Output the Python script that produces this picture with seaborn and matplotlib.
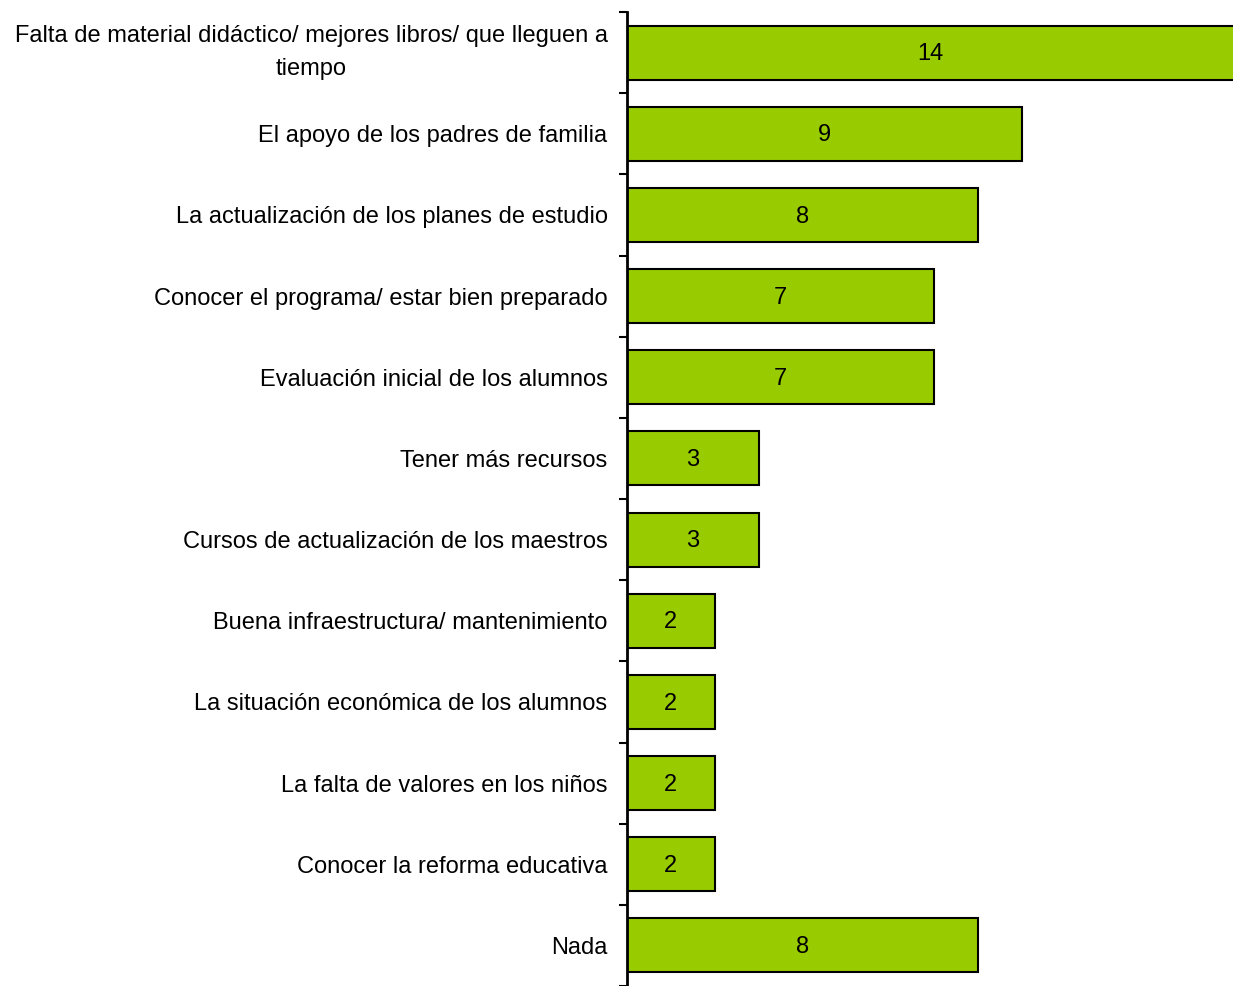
import matplotlib
matplotlib.use("Agg")
import matplotlib.pyplot as plt
import seaborn as sns
import pandas as pd
import numpy as np

categories = [
    "Falta de material didáctico/ mejores libros/ que lleguen a\ntiempo",
    "El apoyo de los padres de familia",
    "La actualización de los planes de estudio",
    "Conocer el programa/ estar bien preparado",
    "Evaluación inicial de los alumnos",
    "Tener más recursos",
    "Cursos de actualización de los maestros",
    "Buena infraestructura/ mantenimiento",
    "La situación económica de los alumnos",
    "La falta de valores en los niños",
    "Conocer la reforma educativa",
    "Nada",
]
values = [14, 9, 8, 7, 7, 3, 3, 2, 2, 2, 2, 8]

sns.set_theme(style="white")
plt.rcParams['font.family'] = ['Liberation Sans', 'DejaVu Sans']

df = pd.DataFrame({"cat": categories, "val": values})

W, H = 1233, 986
fig = plt.figure(figsize=(W / 100, H / 100), dpi=100)
ax = fig.add_axes([627 / W, 0, 1 - 627 / W, 974 / H])

sns.barplot(data=df, y="cat", x="val", orient="h", color="#99CC00",
            edgecolor="black", linewidth=1.5, width=0.665, saturation=1, ax=ax)

xmax = 13.8
ax.set_xlim(0, xmax)
ax.set_ylim(len(categories) - 0.5, -0.5)

for i, v in enumerate(values):
    ax.text(min(v, xmax) / 2, i + 0.02, str(v), ha="center", va="center",
            fontsize=17, color="black")

ax.set_xlabel("")
ax.set_ylabel("")
ax.set_xticks([])
ax.set_yticks(np.arange(len(categories)))
ax.set_yticklabels(categories, fontsize=17, color="black",
                   multialignment="center", linespacing=1.65)
for lbl in ax.get_yticklabels():
    if "\n" in lbl.get_text():
        lbl.set_va("center")
ax.tick_params(axis="y", which="major", length=0, pad=14, labelcolor="black")
ax.set_yticks(np.arange(-0.5, len(categories), 1), minor=True)
ax.tick_params(axis="y", which="minor", left=True, length=6, width=1.5,
               color="black", direction="out")

for s in ["top", "right", "bottom"]:
    ax.spines[s].set_visible(False)
ax.spines["left"].set_color("black")
ax.spines["left"].set_linewidth(2)

fig.savefig("out.png", dpi=100)
